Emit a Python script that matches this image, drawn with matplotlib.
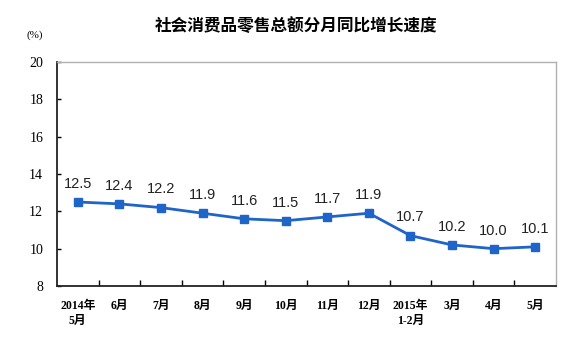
import matplotlib
matplotlib.use("Agg")
import matplotlib.pyplot as plt

months = ["2014年\n5月", "6月", "7月", "8月", "9月", "10月", "11月", "12月",
          "2015年\n1-2月", "3月", "4月", "5月"]
growth = [12.5, 12.4, 12.2, 11.9, 11.6, 11.5, 11.7, 11.9, 10.7, 10.2, 10.0, 10.1]
yticks = [8, 10, 12, 14, 16, 18, 20]

BLUE = "#1F64C8"
CJK = ["Liberation Serif", "Noto Sans CJK SC"]

fig = plt.figure(figsize=(5.86, 3.37), dpi=100)
ax = fig.add_axes([0.0973, 0.1513, 0.8515, 0.6647])

x = list(range(len(growth)))
ax.plot(x, growth, color=BLUE, lw=2, marker="s", ms=5.5, zorder=3)
for xi, v in zip(x, growth):
    ax.annotate(f"{v:.1f}", (xi, v), xytext=(0, 8), textcoords="offset points",
                ha="center", va="bottom", fontsize=10.5, family="Liberation Sans", color="#222222")

ax.set_xlim(-0.5, len(growth) - 0.5)
ax.set_ylim(8, 20)
ax.set_yticks(yticks)
ax.set_yticklabels([str(t) for t in yticks], family="Liberation Serif", fontsize=10)

# category labels, ticks at the boundaries
ax.set_xticks(x)
ax.set_xticklabels(months, family=CJK, fontsize=8.5, fontweight="bold", linespacing=1.35)
ax.tick_params(axis="x", length=0, pad=10)
ax.set_xticks([i + 0.5 for i in x[:-1]], minor=True)
ax.tick_params(axis="x", which="minor", direction="in", length=4, width=1)
ax.tick_params(axis="y", direction="in", length=3, width=1, pad=10)

for s in ("left", "bottom"):
    ax.spines[s].set_color("#222222")
    ax.spines[s].set_linewidth(1.3)
for s in ("top", "right"):
    ax.spines[s].set_color("#b0b0b0")
    ax.spines[s].set_linewidth(1.0)

fig.text(0.505, 0.923, "社会消费品零售总额分月同比增长速度", ha="center", va="center",
         family="Noto Sans CJK SC", fontsize=12, fontweight="bold")
fig.text(0.06, 0.896, "(%)", ha="center", va="center", family=CJK, fontsize=8)

fig.savefig("out.png", dpi=100)
